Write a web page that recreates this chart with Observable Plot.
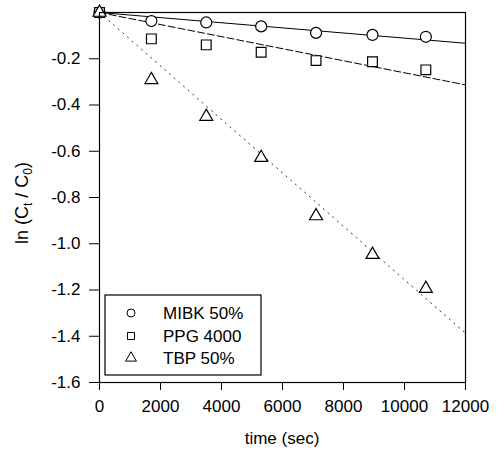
<!DOCTYPE html>
<html><head><meta charset="utf-8">
<script src="https://cdn.jsdelivr.net/npm/d3@7"></script>
<script src="https://cdn.jsdelivr.net/npm/@observablehq/plot@0.6"></script>
<style>
body{margin:0;background:#fff;}
#wrap{position:relative;width:498px;height:449px;font-family:"Liberation Sans",Arial,sans-serif;}
</style></head><body><div id="wrap"></div>
<script>
// Data
const times = [0, 1700, 3500, 5300, 7100, 8950, 10700];
const seriesNames = ["MIBK 50%", "PPG 4000", "TBP 50%"];
const mibk = [0, -0.037, -0.043, -0.060, -0.088, -0.097, -0.105];
const ppg  = [0, -0.114, -0.140, -0.172, -0.208, -0.213, -0.248];
const tbp  = [0, -0.291, -0.450, -0.628, -0.880, -1.047, -1.194];
// fitted lines: start and end points
const fitTimes = [0, 12000];
const fitStart = [0, 0, 0];
const fitEnd = [-0.133, -0.313, -1.387];
const xTicks = [0, 2000, 4000, 6000, 8000, 10000, 12000];
const yTicks = [-1.6, -1.4, -1.2, -1.0, -0.8, -0.6, -0.4, -0.2];
const xLabel = "time (sec)";

const symbols = ["circle", "square", "triangle"];
const radii = [5.5, 5.5, 4.8];
const dashes = ["none", "7,3", "1.2,5"];
const lineColors = ["black", "black", "#333"];
const values = [mibk, ppg, tbp];

const marks = [];
seriesNames.forEach((name, i) => {
  const fit = fitTimes.map((t, j) => ({t, v: j === 0 ? fitStart[i] : fitEnd[i]}));
  marks.push(Plot.line(fit, {x: "t", y: "v", stroke: lineColors[i], strokeWidth: 1, strokeDasharray: dashes[i]}));
});
seriesNames.forEach((name, i) => {
  const pts = times.map((t, j) => ({t, v: values[i][j], s: name}));
  marks.push(Plot.dot(pts, {x: "t", y: "v", symbol: () => symbols[i], r: radii[i], fill: "white", stroke: "black", strokeWidth: 1.2}));
});
marks.push(Plot.frame({stroke: "black", strokeWidth: 1.2}));
marks.push(Plot.axisX({ticks: xTicks, tickSize: 8, tickPadding: 9, label: null, fontSize: 17, tickFormat: d => String(d)}));
marks.push(Plot.axisY({ticks: yTicks, tickSize: 10, tickPadding: 9, label: null, tickFormat: d => d.toFixed(1), fontSize: 17}));

const svg = Plot.plot({
  width: 498, height: 449,
  marginLeft: 99, marginRight: 33, marginTop: 12, marginBottom: 67,
  x: {domain: [0, 12000]},
  y: {domain: [-1.6, 0]},
  symbol: {type: "identity"},
  style: {fontFamily: '"Liberation Sans", Arial, sans-serif', fontSize: "17px", color: "black", background: "white"},
  marks
});
document.getElementById("wrap").appendChild(svg);

const s = d3.select(svg);
// x label
s.append("text").attr("x", 282).attr("y", 444).attr("text-anchor", "middle")
  .attr("font-size", 17).attr("fill", "black").text(xLabel);
// y label with subscripts
const yl = s.append("text").attr("transform", "translate(28,203) rotate(-90)")
  .attr("text-anchor", "middle").attr("font-size", 18).attr("fill", "black");
yl.append("tspan").text("ln (C");
yl.append("tspan").attr("font-size", 12).attr("dy", 4).text("t");
yl.append("tspan").attr("dy", -4).text(" / C");
yl.append("tspan").attr("font-size", 12).attr("dy", 4).text("0");
yl.append("tspan").attr("dy", -4).text(")");

// legend
const lg = s.append("g");
lg.append("rect").attr("x", 105).attr("y", 295).attr("width", 156).attr("height", 80)
  .attr("fill", "white").attr("stroke", "black").attr("stroke-width", 1.2);
const rowsY = [313, 336, 358];
const d3sym = {circle: d3.symbolCircle, square: d3.symbolSquare, triangle: d3.symbolTriangle};
seriesNames.forEach((name, i) => {
  lg.append("path").attr("transform", `translate(131,${rowsY[i]})`)
    .attr("d", d3.symbol(d3sym[symbols[i]], Math.PI * 4 * 4)())
    .attr("fill", "white").attr("stroke", "black").attr("stroke-width", 1);
  lg.append("text").attr("x", 163).attr("y", rowsY[i]).attr("dy", "0.35em")
    .attr("text-anchor", "start")
    .attr("font-size", 17).attr("fill", "black").text(name);
});
</script></body></html>
